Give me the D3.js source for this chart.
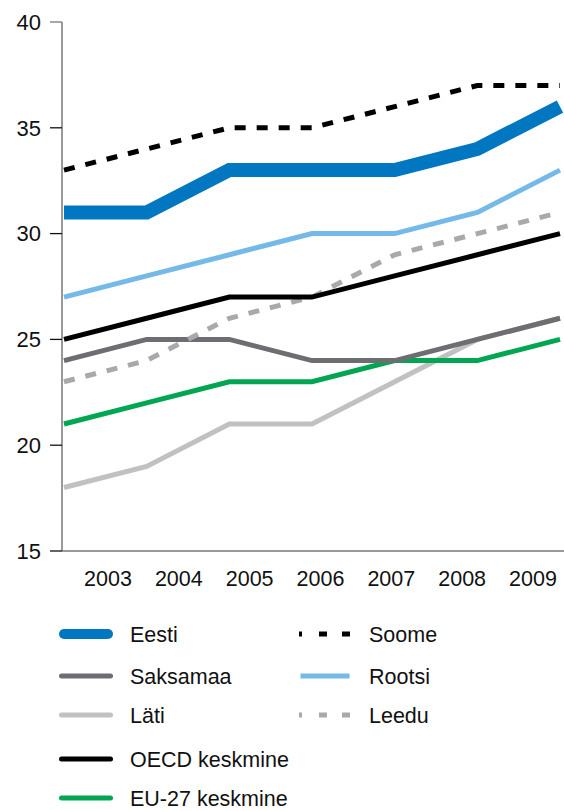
<!DOCTYPE html>
<html>
<head>
<meta charset="utf-8">
<script src="https://cdn.jsdelivr.net/npm/d3@7"></script>
<style>
  body { margin: 0; background: #fff; }
  text { font-family: "Liberation Sans", Arial, sans-serif; fill: #111; }
</style>
</head>
<body>
<svg id="chart"></svg>
<script>
const width = 564;
const height = 811;

const years = ["2003", "2004", "2005", "2006", "2007", "2008", "2009"];
const yTicks = [15, 20, 25, 30, 35, 40];

const eesti = [31, 31, 33, 33, 33, 34, 36];
const soome = [33, 34, 35, 35, 36, 37, 37];
const rootsi = [27, 28, 29, 30, 30, 31, 33];
const leedu = [23, 24, 26, 27, 29, 30, 31];
const oecd = [25, 26, 27, 27, 28, 29, 30];
const saksamaa = [24, 25, 25, 24, 24, 25, 26];
const lati = [18, 19, 21, 21, 23, 25, 26];
const eu27 = [21, 22, 23, 23, 24, 24, 25];

// draw order: bottom first
const series = [
  { name: "Läti", values: lati, color: "#c1c1c3", w: 5 },
  { name: "EU-27 keskmine", values: eu27, color: "#00a651", w: 5 },
  { name: "Saksamaa", values: saksamaa, color: "#6d6e71", w: 5 },
  { name: "Leedu", values: leedu, color: "#a7a9ac", w: 5, dash: "11,11" },
  { name: "OECD keskmine", values: oecd, color: "#000", w: 5 },
  { name: "Rootsi", values: rootsi, color: "#74b9e7", w: 5 },
  { name: "Eesti", values: eesti, color: "#0077c0", w: 14 },
  { name: "Soome", values: soome, color: "#000", w: 5, dash: "11,11" }
];

let svg = d3.select("#chart").attr("width", width).attr("height", height);

const x = d3.scalePoint().domain(years).range([64, 560]);
const xLabel = d3.scalePoint().domain(years).range([108, 533]);
const y = d3.scaleLinear().domain([15, 40]).range([551, 22]);

// y axis
svg.append("line").attr("x1", 62).attr("x2", 62).attr("y1", y(40)).attr("y2", y(15))
  .attr("stroke", "#777").attr("stroke-width", 1.5);
svg.append("line").attr("x1", 62).attr("x2", width).attr("y1", y(15)).attr("y2", y(15))
  .attr("stroke", "#777").attr("stroke-width", 1.5);

svg.selectAll(".ytick").data(yTicks).enter().append("line")
  .attr("x1", 50).attr("x2", 62)
  .attr("y1", d => y(d)).attr("y2", d => y(d))
  .attr("stroke", d => d === 40 ? "#777" : "#111").attr("stroke-width", 1.3);

svg.selectAll(".ylab").data(yTicks).enter().append("text")
  .attr("x", 41).attr("y", d => y(d)).attr("dy", "0.35em")
  .attr("text-anchor", "end").attr("font-size", 22)
  .text(d => d);

svg.selectAll(".xlab").data(years).enter().append("text")
  .attr("x", d => xLabel(d)).attr("y", 586)
  .attr("text-anchor", "middle").attr("font-size", 21.5)
  .text(d => d);

const line = d3.line().x((d, i) => x(years[i])).y(d => y(d));

svg.selectAll(".series").data(series).enter().append("path")
  .attr("d", d => line(d.values))
  .attr("fill", "none")
  .attr("stroke", d => d.color)
  .attr("stroke-width", d => d.w)
  .attr("stroke-dasharray", d => d.dash || null);

// legend
const legend = [
  { name: "Eesti", col: 0, row: 0 },
  { name: "Soome", col: 1, row: 0 },
  { name: "Saksamaa", col: 0, row: 1 },
  { name: "Rootsi", col: 1, row: 1 },
  { name: "Läti", col: 0, row: 2 },
  { name: "Leedu", col: 1, row: 2 },
  { name: "OECD keskmine", col: 0, row: 3 },
  { name: "EU-27 keskmine", col: 0, row: 4 }
];
const rowY = [634, 676, 715, 759, 798];
const colX = [60, 299];

legend.forEach(l => {
  const s = series.find(d => d.name === l.name);
  const g = svg.append("g").attr("transform", `translate(${colX[l.col]},${rowY[l.row]})`);
  if (s.dash) {
    g.append("line").attr("x1", 0).attr("x2", 52).attr("y1", 0).attr("y2", 0)
      .attr("stroke", s.color).attr("stroke-width", 5)
      .attr("stroke-dasharray", "3,17,8,15,8,100");
  } else {
    const w = s.name === "Eesti" ? 10 : 5;
    g.append("line").attr("x1", w / 2 - 1).attr("x2", 53 - w / 2).attr("y1", 0).attr("y2", 0)
      .attr("stroke", s.color).attr("stroke-width", w)
      .attr("stroke-linecap", s.name === "Rootsi" ? "butt" : "round");
  }
  g.append("text").attr("x", 70).attr("y", 0).attr("dy", "0.35em")
    .attr("font-size", 21.5).text(l.name);
});
</script>
</body>
</html>
